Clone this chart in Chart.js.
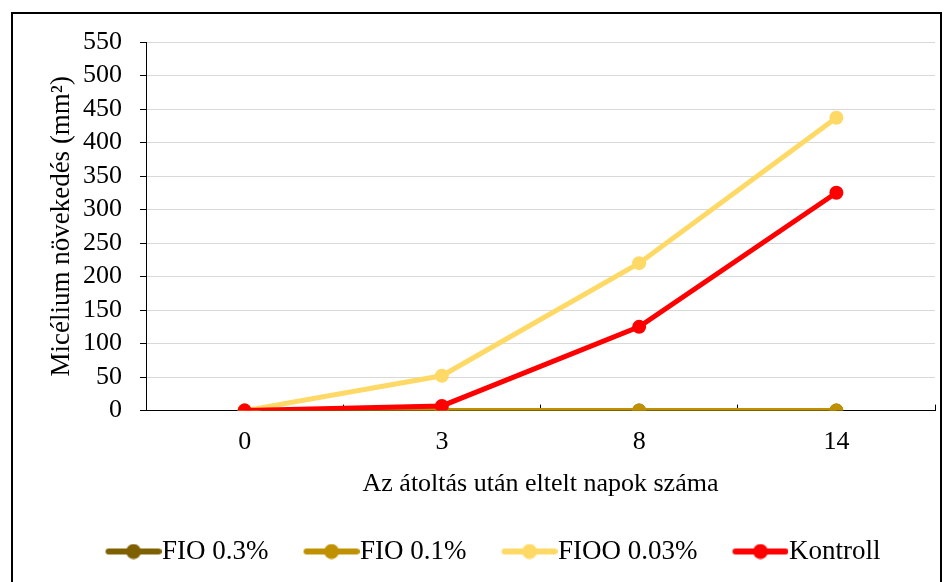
<!DOCTYPE html>
<html>
<head>
<meta charset="utf-8">
<script src="https://cdn.jsdelivr.net/npm/chart.js@4"></script>
<style>
  body { margin: 0; background: #fff; }
  #frame { position: absolute; left: 11px; top: 12px; width: 927px; height: 580px; border: 2px solid #000; }
  #wrap { position: absolute; left: 0; top: 0; width: 952px; height: 582px; }
</style>
</head>
<body>
<div id="frame"></div>
<div id="wrap"><canvas id="myChart" width="952" height="582"></canvas></div>
<script>
// napok
const days = ['0', '3', '8', '14'];

const fio03 = [0, 0, 0, 0];
const fio01 = [0, 0, 0, 0];
const fioo003 = [0, 52, 220, 437];
const kontroll = [0, 7, 125, 325];

const seriesNames = ['FIO 0.3%', 'FIO 0.1%', 'FIOO 0.03%', 'Kontroll'];
const seriesColors = ['#7F6000', '#BF9000', '#FFD966', '#FF0000'];

Chart.defaults.font.family = '"Liberation Serif", "Times New Roman", serif';
Chart.defaults.color = '#000';

// legend symbol: short line with a dot, empty space on the left as item gap
const GAP = 38;
function legendIcon(color) {
  const c = document.createElement('canvas');
  c.width = 56 + GAP; c.height = 16;
  const g = c.getContext('2d');
  g.strokeStyle = color;
  g.lineWidth = 6;
  g.lineCap = 'round';
  g.beginPath(); g.moveTo(GAP + 3, 8); g.lineTo(GAP + 53, 8); g.stroke();
  g.fillStyle = color;
  g.beginPath(); g.arc(GAP + 28, 8, 7.5, 0, Math.PI * 2); g.fill();
  return c;
}

function makeSet(i, data) {
  return {
    label: seriesNames[i],
    data: data,
    borderColor: seriesColors[i],
    backgroundColor: seriesColors[i],
    borderWidth: 5,
    pointRadius: 7,
    pointBorderWidth: 0,
    pointBackgroundColor: seriesColors[i],
    tension: 0,
    order: 4 - i
  };
}

const ctx = document.getElementById('myChart').getContext('2d');
new Chart(ctx, {
  type: 'line',
  data: {
    labels: days,
    datasets: [makeSet(0, fio03), makeSet(1, fio01), makeSet(2, fioo003), makeSet(3, kontroll)]
  },
  options: {
    responsive: false,
    animation: false,
    layout: { padding: { left: 26, top: 42, right: 17, bottom: 7 } },
    plugins: {
      tooltip: { enabled: false },
      legend: {
        position: 'bottom',
        labels: {
          usePointStyle: true,
          pointStyleWidth: 30 + GAP,
          padding: 10,
          font: { size: 27 },
          generateLabels: (chart) => chart.data.datasets.map((ds, i) => ({
            text: ds.label,
            fillStyle: ds.borderColor,
            strokeStyle: ds.borderColor,
            lineWidth: 0,
            pointStyle: legendIcon(ds.borderColor),
            hidden: false,
            datasetIndex: i
          }))
        }
      }
    },
    scales: {
      x: {
        offset: true,
        grid: { offset: true, drawOnChartArea: false, tickLength: -6, tickColor: '#000', tickWidth: 1 },
        border: { color: '#000', width: 1 },
        ticks: { font: { size: 26 }, padding: 22 },
        title: { display: true, text: 'Az átoltás után eltelt napok száma', font: { size: 26 }, padding: { top: -11, bottom: 28 } }
      },
      y: {
        min: 0,
        max: 550,
        ticks: { stepSize: 50, autoSkip: false, font: { size: 26 }, padding: 18 },
        grid: { color: '#d9d9d9', lineWidth: 1, tickLength: 6, tickColor: '#000' },
        border: { color: '#000', width: 1 },
        title: { display: true, text: 'Micélium növekedés (mm²)', font: { size: 27 }, padding: { top: 20, bottom: 0 } },
        afterFit: (scale) => { scale.width = 120; }
      }
    }
  }
});
</script>
</body>
</html>
